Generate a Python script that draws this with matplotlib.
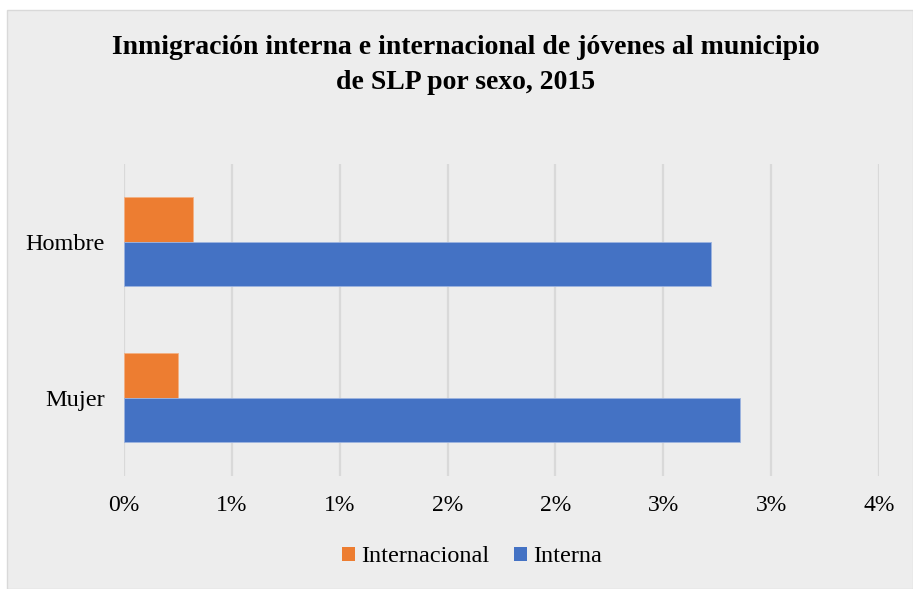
import matplotlib
matplotlib.use("Agg")
import matplotlib.pyplot as plt
from matplotlib.patches import Rectangle, Patch

categories = ["Hombre", "Mujer"]
series_names = ["Internacional", "Interna"]
internacional = [0.32, 0.25]
interna = [2.72, 2.855]
tick_values = [0, 0.5, 1.0, 1.5, 2.0, 2.5, 3.0, 3.5]
tick_labels = ["0%", "1%", "1%", "2%", "2%", "3%", "3%", "4%"]
title = "Inmigración interna e internacional de jóvenes al municipio\nde SLP por sexo, 2015"

plt.rcParams['font.family'] = ['Liberation Serif', 'DejaVu Serif']

W, H = 913, 589
fig = plt.figure(figsize=(W / 100, H / 100), dpi=100)
fig.patch.set_facecolor("white")
bg = Rectangle((7 / W, 0), (W - 7) / W, (H - 10) / H, transform=fig.transFigure,
               facecolor="#EDEDED", edgecolor="#D9D9D9", linewidth=1.0, zorder=-10)
fig.patches.append(bg)

ax = fig.add_axes([124 / W, 1 - 475.7 / H, (879 - 124) / W, (475.7 - 163.7) / H])
ax.set_facecolor("none")
ax.set_zorder(1)

orange = "#ED7D31"
blue = "#4472C4"
bh = 0.285
ypos = list(range(len(categories)))
ax.barh([y - bh / 2 for y in ypos], internacional, height=bh, color=orange,
        edgecolor="#F4B183", linewidth=0.6, zorder=3)
ax.barh([y + bh / 2 for y in ypos], interna, height=bh, color=blue,
        edgecolor="#9DB4E0", linewidth=0.6, zorder=3)

ax.set_ylim(len(categories) - 0.5, -0.5)
ax.set_xlim(0, 3.5)
ax.set_yticks(ypos)
ax.set_yticklabels(categories, fontsize=17.5)
ax.set_xticks(tick_values)
ax.set_xticklabels(tick_labels, fontsize=17)
ax.tick_params(axis="both", length=0)
ax.tick_params(axis="x", pad=14)
ax.tick_params(axis="y", pad=14)
for s in ax.spines.values():
    s.set_visible(False)
ax.grid(axis="x", color="#D9D9D9", linewidth=1.6, zorder=1)
ax.set_axisbelow(True)

fig.text(466 / W, 1 - 65 / H, title, ha="center", va="center", fontsize=20,
         fontweight="bold", linespacing=1.55)

handles = [Patch(facecolor=orange), Patch(facecolor=blue)]
fig.legend(handles, series_names, loc="center", bbox_to_anchor=(472 / W, 1 - 557 / H),
           ncol=2, frameon=False, fontsize=17.5, handlelength=0.55, handleheight=0.55,
           handletextpad=0.25, columnspacing=1.0)

fig.savefig("out.png", dpi=100, facecolor=fig.get_facecolor())
